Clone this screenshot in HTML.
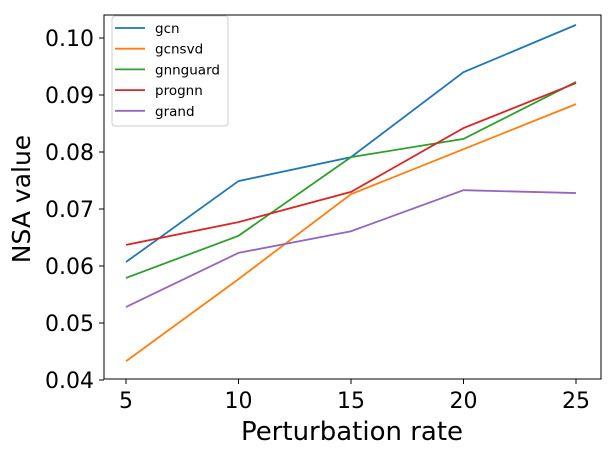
<!DOCTYPE html>
<html><head><meta charset="utf-8"><style>
body{margin:0;background:#fff;}
svg{display:block;font-family:"DejaVu Sans","Liberation Sans",sans-serif;}
</style></head><body>
<svg id="chart" width="609" height="454"></svg>
<script>
const categories=[5,10,15,20,25];
const seriesNames=["gcn","gcnsvd","gnnguard","prognn","grand"];
const colors=["#1f77b4","#ff7f0e","#2ca02c","#d62728","#9467bd"];
const gcn=[0.0607,0.0749,0.0791,0.0940,0.1023];
const gcnsvd=[0.0433,0.0577,0.0726,0.0805,0.0884];
const gnnguard=[0.0579,0.0653,0.0791,0.0823,0.0923];
const prognn=[0.0637,0.0677,0.0730,0.0842,0.0921];
const grand=[0.0528,0.0623,0.0661,0.0733,0.0728];
const yTicks=[0.04,0.05,0.06,0.07,0.08,0.09,0.10];
const yTickLabels=["0.04","0.05","0.06","0.07","0.08","0.09","0.10"];
const xTickLabels=["5","10","15","20","25"];
const series=[gcn,gcnsvd,gnnguard,prognn,grand];

const NS="http://www.w3.org/2000/svg";
const svg=document.getElementById('chart');
const L=104,R=601,T=15,B=379;
const xs=v=>126+(v-5)*22.5;
const ys=v=>380-(v-0.04)*5700;
function mk(tag,attrs,parent){const e=document.createElementNS(NS,tag);for(const k in attrs)e.setAttribute(k,attrs[k]);(parent||svg).appendChild(e);return e;}

const frame=mk('rect',{x:L,y:T,width:R-L,height:B-T,fill:'none',stroke:'#000','stroke-width':1});



yTicks.forEach((v,i)=>{
  const y=ys(v);
  const t=mk('line',{x1:L-5,x2:L,y1:y,y2:y,stroke:'#000'});
  
  
  const tx=mk('text',{x:L-10,y:y+8,'text-anchor':'end','font-size':22});
  tx.textContent=yTickLabels[i];
  
  
});
categories.forEach((c,i)=>{
  const x=xs(c);
  const t=mk('line',{x1:x,x2:x,y1:B,y2:B+5,stroke:'#000'});
  
  
  const tx=mk('text',{x:x,y:B+29,'text-anchor':'middle','font-size':22});
  tx.textContent=xTickLabels[i];
  
  
});
series.forEach((s,si)=>{
  const p=mk('polyline',{points:s.map((v,i)=>xs(categories[i])+','+ys(v)).join(' '),fill:'none',stroke:colors[si],'stroke-width':1.8});
  
  
});
const xl=mk('text',{x:352,y:440,'text-anchor':'middle','font-size':26});
xl.textContent='Perturbation rate';


const yl=mk('text',{x:0,y:0,'text-anchor':'middle','font-size':25,transform:'translate(30,199) rotate(-90)'});
yl.textContent='NSA value';



const lg=mk('g',{});


mk('rect',{x:112,y:16,width:116,height:110,rx:3,fill:'#fff','fill-opacity':0.8,stroke:'#ccc'},lg);
seriesNames.forEach((n,i)=>{
  const y=28+i*20.7;
  const ln=mk('line',{x1:115,x2:145,y1:y,y2:y,stroke:colors[i],'stroke-width':1.8},lg);
  
  
  const t=mk('text',{x:155,y:y+5,'font-size':13.5},lg);
  t.textContent=n;
  
  
});
</script>
</body></html>
